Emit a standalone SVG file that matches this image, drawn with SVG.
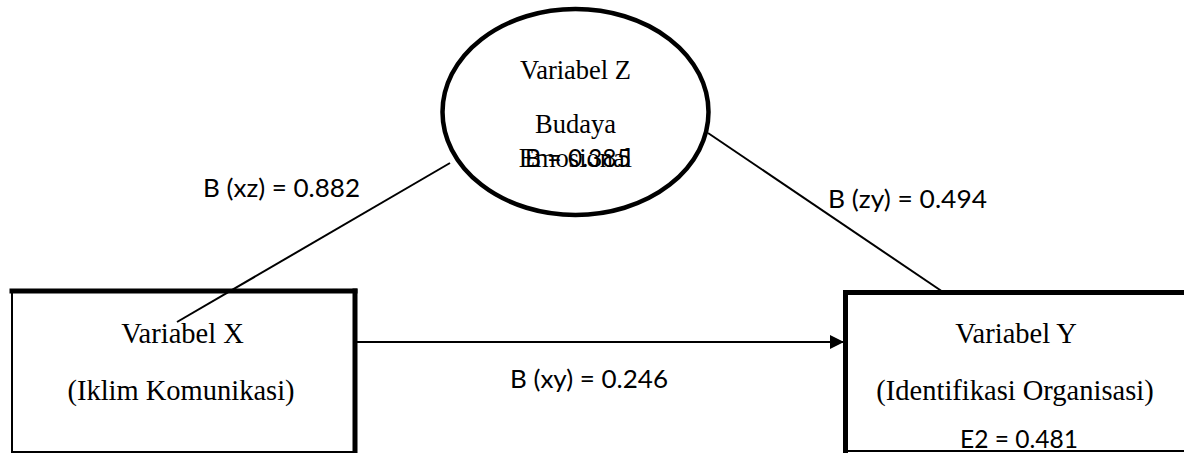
<svg xmlns="http://www.w3.org/2000/svg" width="1184" height="453" viewBox="0 0 1184 453">
  <style>
    .serif { font-family: "Liberation Serif", "Times New Roman", serif; font-size: 28.5px; fill: #000; text-anchor: middle; }
    .zs { font-size: 26.5px; }
    .sans { font-family: Lato, "Open Sans", sans-serif; font-size: 25.5px; fill: #000; }
    .thin { fill: none; stroke: #000; stroke-width: 2; }
    .thick { fill: none; stroke: #000; stroke-width: 5; stroke-linecap: square; }
    .conn { fill: none; stroke: #000; stroke-width: 2; }
  </style>
  <defs>
    <marker id="arrow" markerUnits="userSpaceOnUse" markerWidth="15" markerHeight="15" refX="14" refY="7" orient="auto">
      <path d="M0,0 L14,7 L0,14 Z" fill="#000"/>
    </marker>
  </defs>
  <rect width="1184" height="453" fill="#fff"/>

  <g id="connectors">
    <line class="conn" x1="450" y1="163" x2="177" y2="322"/>
    <line class="conn" x1="708" y1="133" x2="943" y2="292"/>
    <line class="conn" x1="357" y1="342" x2="844" y2="342" marker-end="url(#arrow)" stroke-width="2.5"/>
  </g>

  <g id="node-z">
    <ellipse cx="575.5" cy="112" rx="133" ry="103" fill="none" stroke="#000" stroke-width="4.5"/>
    <text class="serif zs" x="575.5" y="79">Variabel Z</text>
    <text class="serif zs" x="575.5" y="133">Budaya</text>
    <text class="serif zs" x="575.5" y="167">Emosional</text>
    <text class="sans" x="525" y="167" textLength="106" lengthAdjust="spacingAndGlyphs">B = 0.385</text>
  </g>

  <g id="node-x">
    <rect class="thin" x="12" y="291" width="343" height="161"/>
    <line class="thick" x1="12" y1="291" x2="355" y2="291"/>
    <line class="thick" x1="355" y1="291" x2="355" y2="452"/>
    <text class="serif" x="182.5" y="343">Variabel X</text>
    <text class="serif" x="181" y="400">(Iklim Komunikasi)</text>
  </g>

  <g id="node-y">
    <rect class="thin" x="845.5" y="292.5" width="345" height="158.5"/>
    <line class="thick" x1="845.5" y1="292.5" x2="1190" y2="292.5"/>
    <line class="thick" x1="845.5" y1="292.5" x2="845.5" y2="452"/>
    <text class="serif" x="1016" y="343">Variabel Y</text>
    <text class="serif" x="1015" y="400">(Identifikasi Organisasi)</text>
    <text class="sans" x="960" y="448" textLength="118" lengthAdjust="spacingAndGlyphs">E2 = 0.481</text>
  </g>

  <g id="labels">
    <text class="sans" x="203" y="197" textLength="157" lengthAdjust="spacingAndGlyphs">B (xz) = 0.882</text>
    <text class="sans" x="828" y="208" textLength="159" lengthAdjust="spacingAndGlyphs">B (zy) = 0.494</text>
    <text class="sans" x="510" y="388" textLength="158" lengthAdjust="spacingAndGlyphs">B (xy) = 0.246</text>
  </g>
</svg>
